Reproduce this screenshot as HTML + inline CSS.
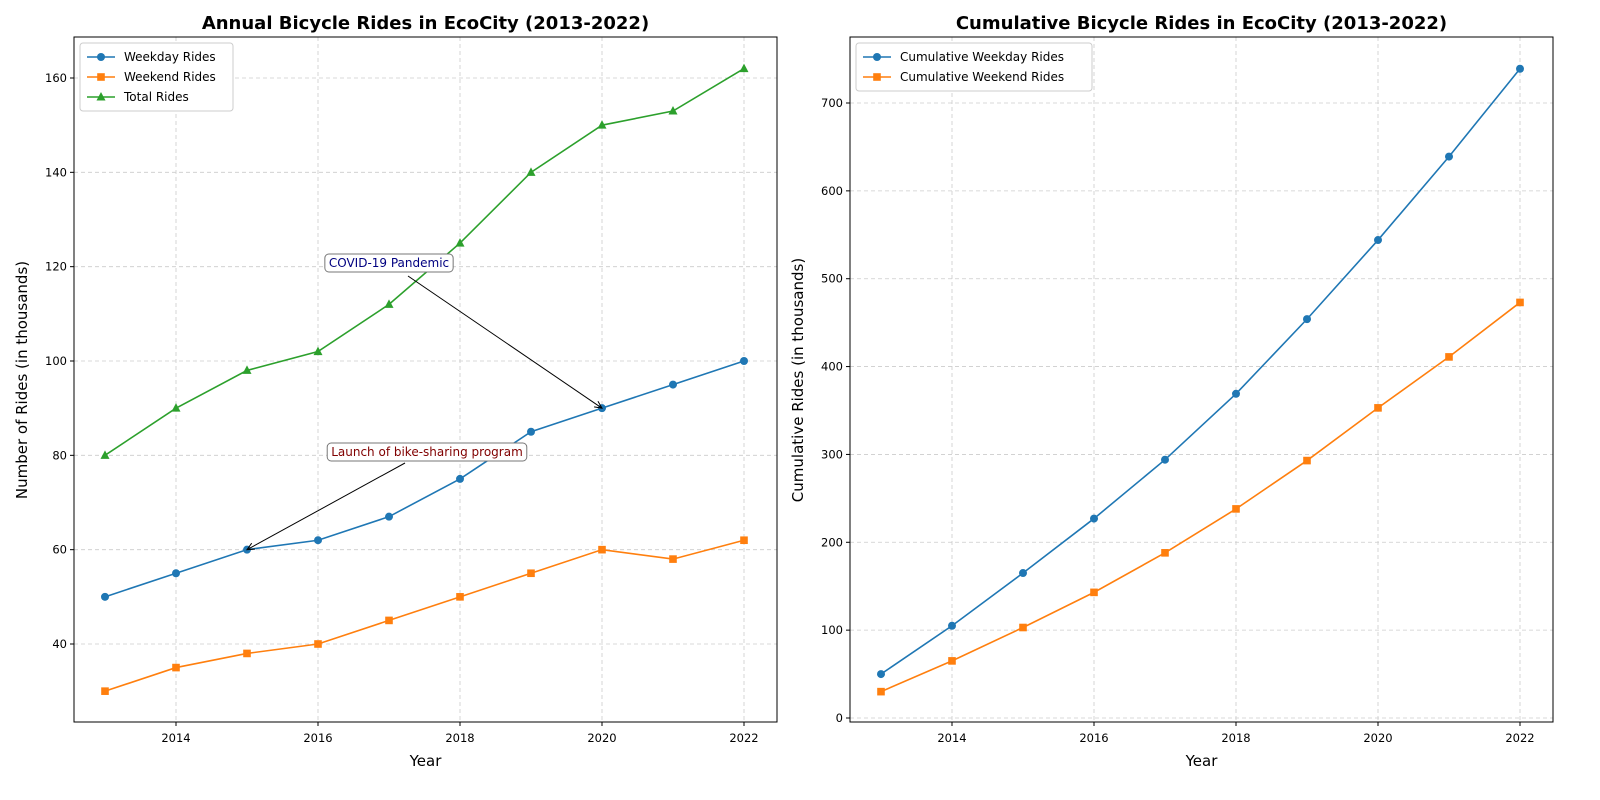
<!DOCTYPE html>
<html><head><meta charset="utf-8"><style>body{margin:0;background:#fff}svg{display:block;font-family:"DejaVu Sans","Liberation Sans",sans-serif}</style></head>
<body>
<svg id="c" width="1600" height="800"></svg>
<script>
const years=[2013,2014,2015,2016,2017,2018,2019,2020,2021,2022];
const weekday=[50,55,60,62,67,75,85,90,95,100];
const weekend=[30,35,38,40,45,50,55,60,58,62];
const total=[80,90,98,102,112,125,140,150,153,162];
const cumWeekday=[50,105,165,227,294,369,454,544,639,739];
const cumWeekend=[30,65,103,143,188,238,293,353,411,473];
const xTicks=[2014,2016,2018,2020,2022];
const yTicksL=[40,60,80,100,120,140,160];
const yTicksR=[0,100,200,300,400,500,600,700];
const NS="http://www.w3.org/2000/svg";
const svg=document.getElementById('c');
function mk(t,a,p){const e=document.createElementNS(NS,t);for(const k in a)e.setAttribute(k,a[k]);(p||svg).appendChild(e);return e;}
function panel(o){
 const g=mk('g',{});
 
 
 const X=v=>o.x0+(v-2013)*71, Y=v=>o.yb-(v-o.ymin)*o.k;
 xTicks.forEach(t=>{mk('line',{x1:X(t),x2:X(t),y1:37,y2:722,stroke:'#ccc','stroke-dasharray':'4,3','stroke-width':0.8},g);
  mk('line',{x1:X(t),x2:X(t),y1:722,y2:726,stroke:'#000'},g);
  const tx=mk('text',{x:X(t),y:742,'font-size':11.5,'text-anchor':'middle'},g);tx.textContent=t;});
 o.yt.forEach(t=>{mk('line',{x1:o.L,x2:o.R,y1:Y(t),y2:Y(t),stroke:'#ccc','stroke-dasharray':'4,3','stroke-width':0.8},g);
  mk('line',{x1:o.L-4,x2:o.L,y1:Y(t),y2:Y(t),stroke:'#000'},g);
  const tx=mk('text',{x:o.L-7,y:Y(t)+4,'font-size':11.5,'text-anchor':'end'},g);tx.textContent=t;});
 mk('rect',{x:o.L,y:37,width:o.R-o.L,height:685,fill:'none',stroke:'#000'},g);
 const ti=mk('text',{x:(o.L+o.R)/2,y:29,'font-size':18,'font-weight':'bold','text-anchor':'middle'},g);ti.textContent=o.title;
 const xl=mk('text',{x:(o.L+o.R)/2,y:766,'font-size':15,'text-anchor':'middle'},g);xl.textContent='Year';
 const yl=mk('text',{x:0,y:0,'font-size':15,'text-anchor':'middle',transform:`translate(${o.L-47},${380}) rotate(-90)`},g);yl.textContent=o.ylab;
 o.series.forEach(s=>{
  const sg=mk('g',{},g);
  
  
  mk('polyline',{points:s.d.map((v,i)=>X(years[i])+','+Y(v)).join(' '),fill:'none',stroke:s.c,'stroke-width':1.6},sg);
  s.d.forEach((v,i)=>marker(sg,s.m,X(years[i]),Y(v),s.c));
 });
 if(o.after)o.after(g,X,Y);
 const lg=mk('g',{},g);
 
 
 mk('rect',{x:o.L+6,y:43,width:o.lw,height:o.series.length*20+8,rx:3,fill:'#fff',stroke:'#ccc'},lg);
 o.series.forEach((s,i)=>{const y=57+i*20;
  mk('line',{x1:o.L+13,x2:o.L+41,y1:y,y2:y,stroke:s.c,'stroke-width':1.6},lg);marker(lg,s.m,o.L+27,y,s.c);
  const t=mk('text',{x:o.L+50,y:y+4,'font-size':12},lg);t.textContent=s.label;});
}
function marker(g,m,x,y,c){
 if(m==='o')mk('circle',{cx:x,cy:y,r:4,fill:c},g);
 else if(m==='s')mk('rect',{x:x-3.8,y:y-3.8,width:7.6,height:7.6,fill:c},g);
 else mk('polygon',{points:`${x},${y-5} ${x-4.5},${y+3.5} ${x+4.5},${y+3.5}`,fill:c},g);
}
function annot(g,txt,col,bx,by,tx,ty,ax,ay,name){
 const ag=mk('g',{},g);
 
 
 const ang=Math.atan2(ty-ay,tx-ax);
 mk('line',{x1:ax,y1:ay,x2:tx,y2:ty,stroke:'#000','stroke-width':1},ag);
 const a1=ang+2.7,a2=ang-2.7;
 mk('polyline',{points:`${tx+8*Math.cos(a1)},${ty+8*Math.sin(a1)} ${tx},${ty} ${tx+8*Math.cos(a2)},${ty+8*Math.sin(a2)}`,fill:'none',stroke:'#000'},ag);
 const t=mk('text',{x:bx,y:by,'font-size':12,fill:col,'text-anchor':'middle'},ag);t.textContent=txt;
 const b=t.getBBox();
 const r=mk('rect',{x:b.x-4,y:b.y-2,width:b.width+8,height:b.height+4,rx:4,fill:'#fff',stroke:'#777'},ag);
 ag.insertBefore(r,t);
}
panel({name:'annual-rides-panel',title:'Annual Bicycle Rides in EcoCity (2013-2022)',ylab:'Number of Rides (in thousands)',
 L:74,R:777,x0:105,yb:644,ymin:40,k:566/120,yt:yTicksL,lw:153,
 series:[{name:'weekday-series',label:'Weekday Rides',d:weekday,c:'#1f77b4',m:'o'},
  {name:'weekend-series',label:'Weekend Rides',d:weekend,c:'#ff7f0e',m:'s'},
  {name:'total-series',label:'Total Rides',d:total,c:'#2ca02c',m:'^'}],
 after:(g,X,Y)=>{
  annot(g,'COVID-19 Pandemic','#000080',389,267,X(2020),Y(90),408,276,'covid-annotation');
  annot(g,'Launch of bike-sharing program','#800000',427,456,X(2015),Y(60),405,463,'bike-sharing-annotation');
 }});
panel({name:'cumulative-rides-panel',title:'Cumulative Bicycle Rides in EcoCity (2013-2022)',ylab:'Cumulative Rides (in thousands)',
 L:850,R:1553,x0:881,yb:718,ymin:0,k:615/700,yt:yTicksR,lw:236,
 series:[{name:'cumulative-weekday-series',label:'Cumulative Weekday Rides',d:cumWeekday,c:'#1f77b4',m:'o'},
  {name:'cumulative-weekend-series',label:'Cumulative Weekend Rides',d:cumWeekend,c:'#ff7f0e',m:'s'}]});
</script>
</body></html>
